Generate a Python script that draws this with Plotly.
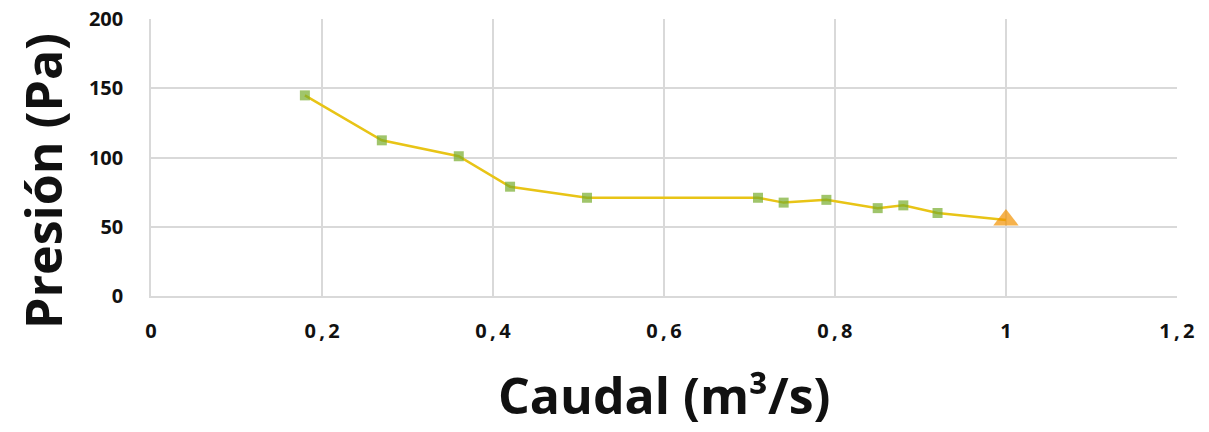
import plotly.graph_objects as go

caudal = [0.18, 0.27, 0.36, 0.42, 0.51, 0.71, 0.74, 0.79, 0.85, 0.88, 0.92, 1.0]
presion = [145, 112.5, 101, 79, 71, 71, 67.5, 69.5, 63.5, 65.5, 60, 55]
symbols = ["square"] * 11 + ["triangle-up"]
colors = ["#78ad2c"] * 11 + ["#f29100"]
sizes = [10] * 11 + [22]

x_ticks = [0, 0.2, 0.4, 0.6, 0.8, 1.0, 1.2]
x_ticktext = ["0", "0\u2009,\u20092", "0\u2009,\u20094", "0\u2009,\u20096", "0\u2009,\u20098", "1", "1\u2009,\u20092"]
y_ticks = [0, 50, 100, 150, 200]

fig = go.Figure()
fig.add_trace(go.Scatter(
    x=caudal, y=presion, mode="lines+markers",
    line=dict(color="#e8c416", width=2.5),
    marker=dict(symbol=symbols, color=colors, size=sizes, line=dict(width=0)),
    showlegend=False,
))

fnt = "Open Sans, sans-serif"
fig.update_layout(
    width=1209, height=432,
    margin=dict(l=151, r=32, t=19, b=136),
    paper_bgcolor="white", plot_bgcolor="white",
    xaxis=dict(range=[0, 1.2001], tickvals=x_ticks, ticktext=x_ticktext,
               showgrid=True, gridcolor="#d9d9d9", gridwidth=1.5,
               showline=True, linecolor="#d9d9d9", linewidth=1.5,
               zeroline=False, ticks="", ticklabelstandoff=16, automargin=False,
               ticklabeloverflow="allow",
               tickfont=dict(family=fnt, size=20, color="#111", weight="bold")),
    yaxis=dict(range=[0, 200.2], tickvals=y_ticks,
               showgrid=True, gridcolor="#d9d9d9", gridwidth=1.5,
               showline=True, linecolor="#d9d9d9", linewidth=1.5,
               zeroline=False, ticks="", ticklabelstandoff=22, automargin=False,
               ticklabeloverflow="allow",
               tickfont=dict(family=fnt, size=20, color="#111", weight="bold")),
    annotations=[
        dict(text="<b>Caudal (m³/s)</b>", xref="paper", yref="paper",
             x=0.5, y=(296 - 395) / 277, xanchor="center", yanchor="middle", showarrow=False,
             font=dict(family=fnt, size=50, color="#111")),
        dict(text="<b>Presión (Pa)</b>", xref="paper", yref="paper",
             x=(43 - 151) / 1026, y=(296 - 181) / 277, xanchor="center", yanchor="middle",
             textangle=-90, showarrow=False,
             font=dict(family=fnt, size=50, color="#111")),
    ],
)
fig.write_html("out.html", config={"displayModeBar": False},
               post_script="document.body.style.margin='0';")
